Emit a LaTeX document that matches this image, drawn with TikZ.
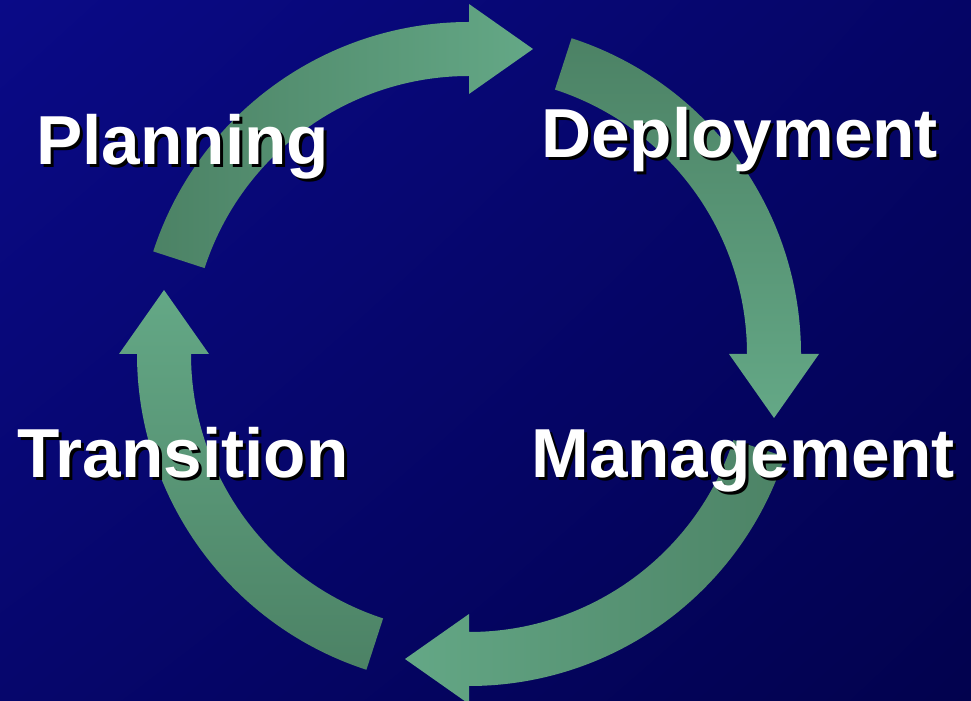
\documentclass[tikz,border=0pt]{standalone}
\usepackage{fontspec}
\setmainfont{Liberation Sans}
\usetikzlibrary{shadings}
\definecolor{bgtl}{RGB}{10,10,135}
\definecolor{bgtr}{RGB}{5,5,102}
\definecolor{bgbl}{RGB}{6,6,108}
\definecolor{bgbr}{RGB}{2,2,78}
\definecolor{armdark}{RGB}{76,130,101}
\definecolor{armlight}{RGB}{100,168,134}

\begin{document}
\begin{tikzpicture}[
    x=0.75pt, y=0.75pt,
    phase/.style={inner sep=0pt, anchor=base west, text=white,
        font=\fontsize{52}{60}\selectfont\bfseries},
    phaseshadow/.style={phase, text=black},
    arm top/.style={left color=armdark, right color=armlight},
    arm right/.style={top color=armdark, bottom color=armlight},
    arm bottom/.style={left color=armlight, right color=armdark},
    arm left/.style={top color=armlight, bottom color=armdark}
]
    \useasboundingbox (0,0) rectangle (971,700);
    \shade[upper left=bgtl, upper right=bgtr, lower left=bgbl, lower right=bgbr]
        (0,0) rectangle (971,700);

    % four arms of the cycle
    \foreach \turn/\look in {0/arm top, -90/arm right, -180/arm bottom, -270/arm left}{
        \begin{scope}[shift={(469,346)}, rotate=\turn]
            \shade[\look] (162:332) arc[start angle=162, end angle=90, radius=332]
                -- (0,350) -- (64,305) -- (0,260) -- (0,278)
                arc[start angle=90, end angle=162, radius=278] -- cycle;
        \end{scope}
    }

    % labels with drop shadow
    \node[phaseshadow] (plan-s) at (39,532) {Planning};
    \node[phase] (plan) at (36,535) {Planning};
    \node[phaseshadow] (deploy-s) at (544,539) {Deployment};
    \node[phase] (deploy) at (541,542) {Deployment};
    \node[phaseshadow] (manage-s) at (534,219) {Management};
    \node[phase] (manage) at (531,222) {Management};
    \node[phaseshadow] (trans-s) at (20,219) {Transition};
    \node[phase] (trans) at (17,222) {Transition};
\end{tikzpicture}
\end{document}
